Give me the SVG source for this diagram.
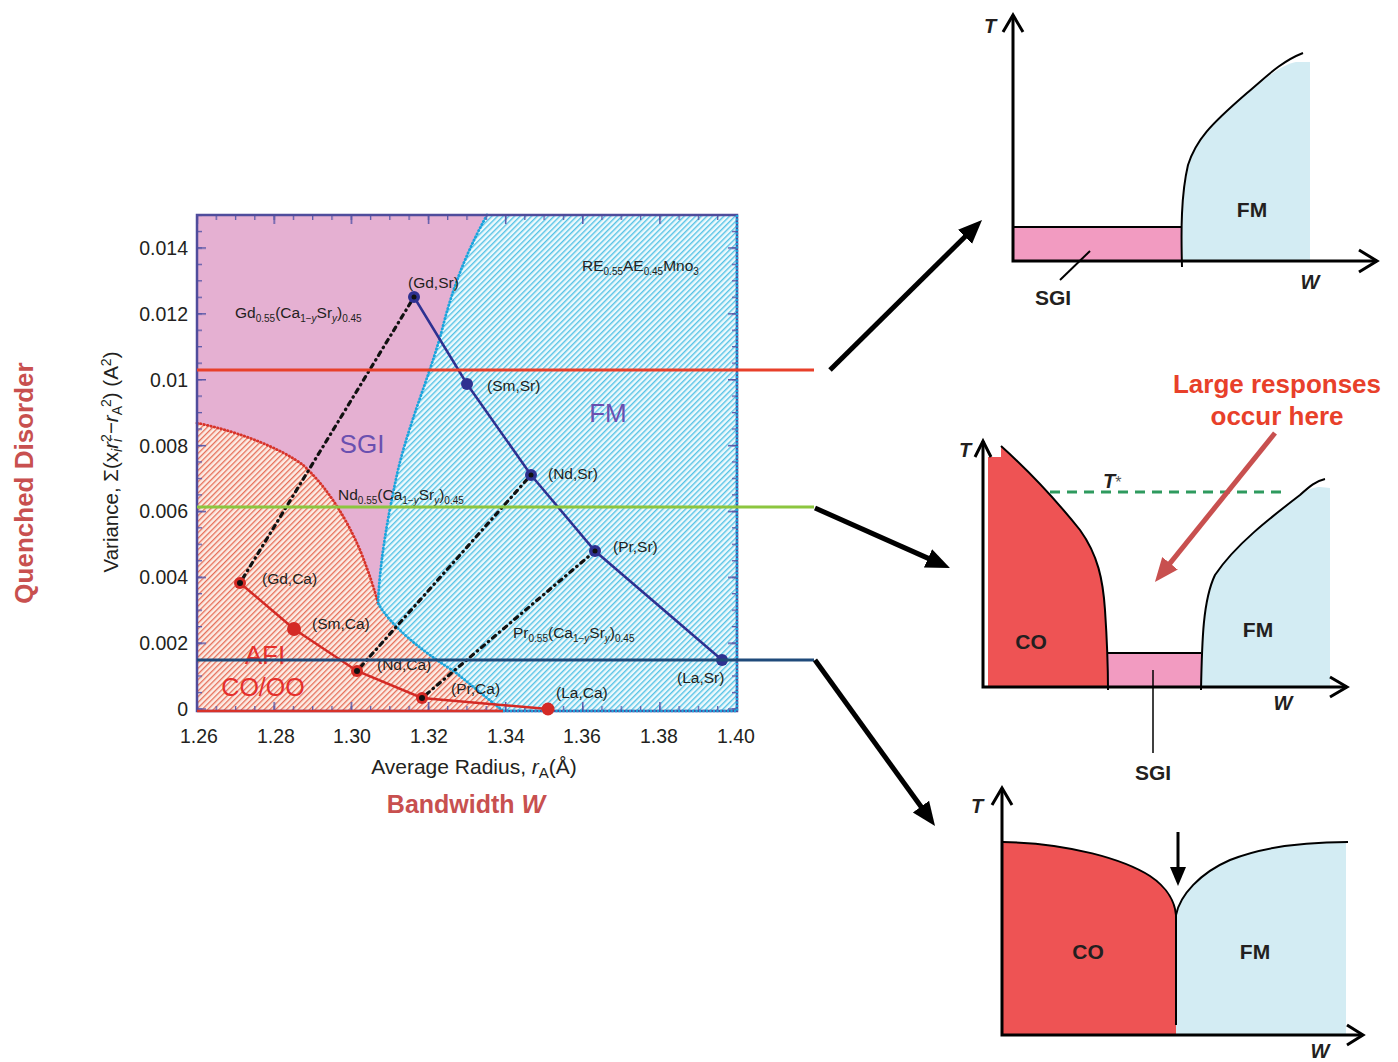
<svg xmlns="http://www.w3.org/2000/svg" width="1398" height="1062" viewBox="0 0 1398 1062">
<defs>
  <pattern id="hBlue" patternUnits="userSpaceOnUse" width="4" height="4" patternTransform="rotate(45)">
    <rect width="4" height="4" fill="#eef9fc"/>
    <rect width="1.4" height="4" fill="#55c3e6"/>
  </pattern>
  <pattern id="hRed" patternUnits="userSpaceOnUse" width="4" height="4" patternTransform="rotate(45)">
    <rect width="4" height="4" fill="#fcece5"/>
    <rect width="1.3" height="4" fill="#e66e58"/>
  </pattern>
  <pattern id="tx" patternUnits="userSpaceOnUse" x="196.35" y="0" width="19.2857" height="1000">
    <rect width="1.3" height="1000" fill="#5a58a8"/>
  </pattern>
  <pattern id="txM" patternUnits="userSpaceOnUse" x="196.35" y="0" width="77.143" height="1000">
    <rect width="1.5" height="1000" fill="#5a58a8"/>
  </pattern>
  <pattern id="ty" patternUnits="userSpaceOnUse" x="0" y="708.35" width="1000" height="16.4667">
    <rect width="1000" height="1.3" fill="#5a58a8"/>
  </pattern>
  <pattern id="tyM" patternUnits="userSpaceOnUse" x="0" y="708.35" width="1000" height="65.867">
    <rect width="1000" height="1.5" fill="#5a58a8"/>
  </pattern>
  <marker id="ah" markerUnits="userSpaceOnUse" markerWidth="24" markerHeight="22" refX="4" refY="11" orient="auto">
    <path d="M0,1 L24,11 L0,21 Z" fill="#000"/>
  </marker>
  <marker id="ahr" markerUnits="userSpaceOnUse" markerWidth="24" markerHeight="22" refX="4" refY="11" orient="auto">
    <path d="M0,1 L24,11 L0,21 Z" fill="#c8504f"/>
  </marker>
</defs>
<style>
  text{font-family:"Liberation Sans",Arial,Helvetica,sans-serif}
  .tick{font-size:19.5px;fill:#231f20}
  .lbl{font-size:15.5px;fill:#231f20}
  .sb{font-size:10px}
  .ax{stroke:#000;stroke-width:3;fill:none}
  .bnd{stroke:#000;stroke-width:2;fill:none}
  .pl{font-weight:bold;font-size:21px;fill:#231f20}
  .ti{font-weight:bold;font-style:italic;font-size:20px;fill:#231f20}
  .co{fill:#ee5354}
  .fm{fill:#d3ecf3}
  .sgi{fill:#f29bc1}
  .big{stroke:#000;stroke-width:5;fill:none}
  .reg{font-size:26px}
</style>
<rect width="1398" height="1062" fill="#fff"/>

<!-- ===== Main phase diagram ===== -->
<g id="plot">
  <rect x="197" y="215" width="540" height="496" fill="url(#hBlue)"/>
  <path id="region-sgi" fill="#e5b0d2" d="M197,215 L487,215 C465,255 452,290 442,330 C430,375 410,420 398,470 C388,515 380,560 378,603 C374,588 368,570 360,550 C345,515 325,485 303,465 C280,448 240,432 197,423 Z"/>
  <path id="region-afi" fill="url(#hRed)" d="M197,423 C240,432 280,448 303,465 C325,485 345,515 360,550 C368,570 374,588 378,603 C390,625 420,650 455,672 L503,711 L197,711 Z"/>
  <path fill="none" stroke="#d8332a" stroke-width="2.8" stroke-linecap="round" stroke-dasharray="0.5 3" d="M197,423 C240,432 280,448 303,465 C325,485 345,515 360,550 C368,570 374,588 378,603"/>
  <path fill="none" stroke="#1aa5dd" stroke-width="2.8" stroke-linecap="round" stroke-dasharray="0.5 3" d="M487,215 C465,255 452,290 442,330 C430,375 410,420 398,470 C388,515 380,560 378,603 C390,625 420,650 455,672 L503,711"/>
  <!-- ticks -->
  <rect x="197" y="215" width="540" height="5" fill="url(#tx)"/>
  <rect x="197" y="215" width="540" height="9" fill="url(#txM)"/>
  <rect x="197" y="706" width="540" height="5" fill="url(#tx)"/>
  <rect x="197" y="702" width="540" height="9" fill="url(#txM)"/>
  <rect x="197" y="215" width="5" height="496" fill="url(#ty)"/>
  <rect x="197" y="215" width="9" height="496" fill="url(#tyM)"/>
  <rect x="732" y="215" width="5" height="496" fill="url(#ty)"/>
  <rect x="728" y="215" width="9" height="496" fill="url(#tyM)"/>
  <rect x="197" y="215" width="540" height="496" fill="none" stroke="#4f4c9c" stroke-width="2.5"/>
  <line x1="737" y1="215" x2="737" y2="711" stroke="#1aa5dd" stroke-width="2.5" stroke-dasharray="2 1.5"/>
  <line x1="503" y1="711" x2="737" y2="711" stroke="#1aa5dd" stroke-width="2.5" stroke-dasharray="2 1.5"/>
  <line x1="197" y1="711" x2="503" y2="711" stroke="#d8332a" stroke-width="2.5"/>

  <!-- series lines -->
  <g fill="none" stroke="#111" stroke-width="3.2" stroke-linecap="round" stroke-dasharray="0.5 5 4 5">
    <line x1="240" y1="583" x2="414" y2="297"/>
    <line x1="357" y1="671" x2="531" y2="475"/>
    <line x1="422" y1="698" x2="595" y2="551"/>
  </g>
  <polyline fill="none" stroke="#2e3191" stroke-width="2.5" points="414,297 467,384 531,475 595,551 722,660"/>
  <polyline fill="none" stroke="#d42a25" stroke-width="2.5" points="240,583 294,629 357,671 422,698 548,709"/>
  <g fill="#2e3191">
    <circle cx="414" cy="297" r="6"/>
    <circle cx="467" cy="384" r="6"/>
    <circle cx="531" cy="475" r="6"/>
    <circle cx="595" cy="551" r="6"/>
    <circle cx="722" cy="660" r="6"/>
  </g>
  <g fill="#d42a25">
    <circle cx="240" cy="583" r="6"/>
    <circle cx="294" cy="629" r="7"/>
    <circle cx="357" cy="671" r="6"/>
    <circle cx="422" cy="698" r="6"/>
    <circle cx="548" cy="709" r="6.5"/>
  </g>
  <g fill="#111">
    <circle cx="414" cy="297" r="2.5"/>
    <circle cx="531" cy="475" r="2.5"/>
    <circle cx="595" cy="551" r="2.5"/>
    <circle cx="240" cy="583" r="3"/>
    <circle cx="357" cy="671" r="3"/>
    <circle cx="422" cy="698" r="3"/>
  </g>

  <!-- labels inside -->
  <g class="lbl">
    <text x="408" y="288">(Gd,Sr)</text>
    <text x="487" y="391">(Sm,Sr)</text>
    <text x="548" y="479">(Nd,Sr)</text>
    <text x="613" y="552">(Pr,Sr)</text>
    <text x="677" y="683">(La,Sr)</text>
    <text x="262" y="584">(Gd,Ca)</text>
    <text x="312" y="629">(Sm,Ca)</text>
    <text x="377" y="670">(Nd,Ca)</text>
    <text x="451" y="694">(Pr,Ca)</text>
    <text x="556" y="698">(La,Ca)</text>
    <text x="235" y="318">Gd<tspan class="sb" dy="4">0.55</tspan><tspan dy="-4">(Ca</tspan><tspan class="sb" dy="4">1−</tspan><tspan class="sb" font-style="italic">y</tspan><tspan dy="-4">Sr</tspan><tspan class="sb" dy="4" font-style="italic">y</tspan><tspan dy="-4">)</tspan><tspan class="sb" dy="4">0.45</tspan></text>
    <text x="582" y="271">RE<tspan class="sb" dy="4">0.55</tspan><tspan dy="-4">AE</tspan><tspan class="sb" dy="4">0.45</tspan><tspan dy="-4">Mno</tspan><tspan class="sb" dy="4">3</tspan></text>
    <text x="338" y="500">Nd<tspan class="sb" dy="4">0.55</tspan><tspan dy="-4">(Ca</tspan><tspan class="sb" dy="4">1−</tspan><tspan class="sb" font-style="italic">y</tspan><tspan dy="-4">Sr</tspan><tspan class="sb" dy="4" font-style="italic">y</tspan><tspan dy="-4">)</tspan><tspan class="sb" dy="4">0.45</tspan></text>
    <text x="513" y="638">Pr<tspan class="sb" dy="4">0.55</tspan><tspan dy="-4">(Ca</tspan><tspan class="sb" dy="4">1−</tspan><tspan class="sb" font-style="italic">y</tspan><tspan dy="-4">Sr</tspan><tspan class="sb" dy="4" font-style="italic">y</tspan><tspan dy="-4">)</tspan><tspan class="sb" dy="4">0.45</tspan></text>
  </g>
  <text class="reg" x="362" y="453" text-anchor="middle" fill="#6a50b0">SGI</text>
  <text class="reg" x="608" y="422" text-anchor="middle" fill="#6a50b0">FM</text>
  <text class="reg" x="265" y="664" text-anchor="middle" fill="#e5302c">AFI</text>
  <text x="263" y="696" text-anchor="middle" font-size="25" fill="#e5302c">CO/OO</text>

  <!-- axis tick labels -->
  <g class="tick" text-anchor="end">
    <text x="188" y="255">0.014</text>
    <text x="188" y="321">0.012</text>
    <text x="188" y="387">0.01</text>
    <text x="188" y="453">0.008</text>
    <text x="188" y="518">0.006</text>
    <text x="188" y="584">0.004</text>
    <text x="188" y="650">0.002</text>
    <text x="188" y="716">0</text>
  </g>
  <g class="tick" text-anchor="middle">
    <text x="199" y="743">1.26</text>
    <text x="276" y="743">1.28</text>
    <text x="352" y="743">1.30</text>
    <text x="429" y="743">1.32</text>
    <text x="506" y="743">1.34</text>
    <text x="582" y="743">1.36</text>
    <text x="659" y="743">1.38</text>
    <text x="736" y="743">1.40</text>
  </g>
  <text x="474" y="774" text-anchor="middle" font-size="21" fill="#231f20">Average Radius, <tspan font-style="italic">r</tspan><tspan dy="4" font-size="15">A</tspan><tspan dy="-4">(Å)</tspan></text>
  <text transform="translate(118,462) rotate(-90)" text-anchor="middle" font-size="20.5" fill="#231f20">Variance, Σ(x<tspan dy="4" font-size="14" font-style="italic">i</tspan><tspan dy="-4" font-style="italic">r</tspan><tspan dy="4" font-size="14" font-style="italic">i</tspan><tspan dx="-3" dy="-11" font-size="14">2</tspan><tspan dy="7">−</tspan><tspan font-style="italic">r</tspan><tspan dy="4" font-size="14">A</tspan><tspan dx="-1" dy="-11" font-size="14">2</tspan><tspan dy="7">) (A</tspan><tspan dy="-7" font-size="14">2</tspan><tspan dy="7">)</tspan></text>
  <text transform="translate(33,483) rotate(-90)" text-anchor="middle" font-size="26" font-weight="bold" fill="#c8504f">Quenched Disorder</text>
  <text x="466" y="813" text-anchor="middle" font-size="25" font-weight="bold" fill="#c8504f">Bandwidth <tspan font-style="italic">W</tspan></text>

  <!-- cut lines -->
  <line x1="197" y1="370" x2="814" y2="370" stroke="#e8402a" stroke-width="3"/>
  <line x1="197" y1="507" x2="814" y2="507" stroke="#8cc63f" stroke-width="3"/>
  <line x1="197" y1="660" x2="814" y2="660" stroke="#1f4a7a" stroke-width="3"/>
</g>

<!-- ===== Connectors ===== -->
<g id="connectors">
  <line class="big" x1="830" y1="370" x2="967.8" y2="234" marker-end="url(#ah)"/>
  <line class="big" x1="815" y1="508" x2="931.7" y2="559.9" marker-end="url(#ah)"/>
  <line class="big" x1="815" y1="660" x2="923.3" y2="809.8" marker-end="url(#ah)"/>
</g>

<!-- ===== Top panel ===== -->
<g id="panel-top">
  <path class="fm" d="M1183,260 C1182,230 1182,195 1189,165 C1197,140 1211,125 1248,93 C1266,78 1281,65 1296,62 L1310,62 L1310,260 Z"/>
  <rect class="sgi" x="1014" y="227" width="168" height="33"/>
  <line class="bnd" x1="1014" y1="227" x2="1182" y2="227"/>
  <path class="bnd" d="M1182,267 C1181,230 1181,195 1188,165 C1196,140 1210,125 1247,93 C1265,78 1280,62 1303,53"/>
  <polyline class="ax" points="1013,15 1013,261 1377,261"/>
  <polyline class="ax" points="1003,32 1013,15 1023,32"/>
  <polyline class="ax" points="1359,250 1377,261 1359,272"/>
  <line x1="1090" y1="251" x2="1060" y2="280" stroke="#000" stroke-width="2"/>
  <text class="ti" x="990" y="33" text-anchor="middle">T</text>
  <text class="ti" x="1310" y="289" text-anchor="middle">W</text>
  <text class="pl" x="1252" y="217" text-anchor="middle">FM</text>
  <text class="pl" x="1053" y="305" text-anchor="middle">SGI</text>
</g>

<!-- ===== Middle panel ===== -->
<g id="panel-middle">
  <path class="co" d="M988,687 L988,457 L1001,457 L1001,446 C1030,472 1060,505 1080,530 C1098,555 1103,580 1105,610 C1107,640 1108,670 1108,687 Z"/>
  <path class="fm" d="M1202,687 C1202,640 1203,600 1215,575 C1235,545 1270,518 1300,495 C1308,489 1315,487 1320,487 L1330,488 L1330,687 Z"/>
  <rect class="sgi" x="1108" y="653" width="93" height="34"/>
  <line class="bnd" x1="1108" y1="653" x2="1201" y2="653"/>
  <path class="bnd" d="M1001,446 C1030,472 1060,505 1080,530 C1098,555 1103,580 1105,610 C1107,640 1108,670 1108,690"/>
  <path class="bnd" d="M1201,690 C1202,640 1203,600 1215,575 C1235,545 1270,518 1300,495 C1310,486 1316,481 1325,479"/>
  <line x1="1050" y1="492" x2="1287" y2="492" stroke="#2e9a5e" stroke-width="3" stroke-dasharray="10 7"/>
  <polyline class="ax" points="983,441 983,687 1347,687"/>
  <polyline class="ax" points="975,457 983,441 991,457"/>
  <polyline class="ax" points="1330,677 1347,687 1330,697"/>
  <line x1="1153" y1="670" x2="1153" y2="753" stroke="#000" stroke-width="1.5"/>
  <text class="ti" x="965" y="457" text-anchor="middle">T</text>
  <text class="ti" x="1283" y="710" text-anchor="middle">W</text>
  <text x="1103" y="488" class="ti">T<tspan font-weight="normal" font-style="normal" font-size="16" fill="#555">*</tspan></text>
  <text class="pl" x="1031" y="649" text-anchor="middle">CO</text>
  <text class="pl" x="1258" y="637" text-anchor="middle">FM</text>
  <text class="pl" x="1153" y="780" text-anchor="middle">SGI</text>
  <text x="1277" y="393" text-anchor="middle" font-size="26" font-weight="bold" fill="#e8402a">Large responses</text>
  <text x="1277" y="425" text-anchor="middle" font-size="26" font-weight="bold" fill="#e8402a">occur here</text>
  <line x1="1275" y1="433" x2="1167.5" y2="566.4" stroke="#c8504f" stroke-width="5" marker-end="url(#ahr)"/>
</g>

<!-- ===== Bottom panel ===== -->
<g id="panel-bottom">
  <path class="co" d="M1003,1035 L1003,842 C1070,843 1125,860 1150,876 C1168,888 1175,903 1176,915 L1176,1035 Z"/>
  <path class="fm" d="M1176,1035 L1176,915 C1180,895 1200,873 1230,860 C1265,846 1310,842 1346,842 L1346,1035 Z"/>
  <path class="bnd" d="M1003,842 C1070,843 1125,860 1150,876 C1168,888 1175,903 1176,915 L1176,1025"/>
  <path class="bnd" d="M1176,915 C1180,895 1200,873 1230,860 C1265,846 1310,842 1348,842"/>
  <polyline class="ax" points="1002,788 1002,1035 1363,1035"/>
  <polyline class="ax" points="992,805 1002,788 1012,805"/>
  <polyline class="ax" points="1347,1025 1363,1035 1347,1045"/>
  <line x1="1178" y1="832" x2="1178" y2="870" stroke="#000" stroke-width="3"/>
  <polygon points="1170,867 1186,867 1178,886" fill="#000"/>
  <text class="ti" x="977" y="813" text-anchor="middle">T</text>
  <text class="ti" x="1320" y="1058" text-anchor="middle">W</text>
  <text class="pl" x="1088" y="959" text-anchor="middle">CO</text>
  <text class="pl" x="1255" y="959" text-anchor="middle">FM</text>
</g>
</svg>
